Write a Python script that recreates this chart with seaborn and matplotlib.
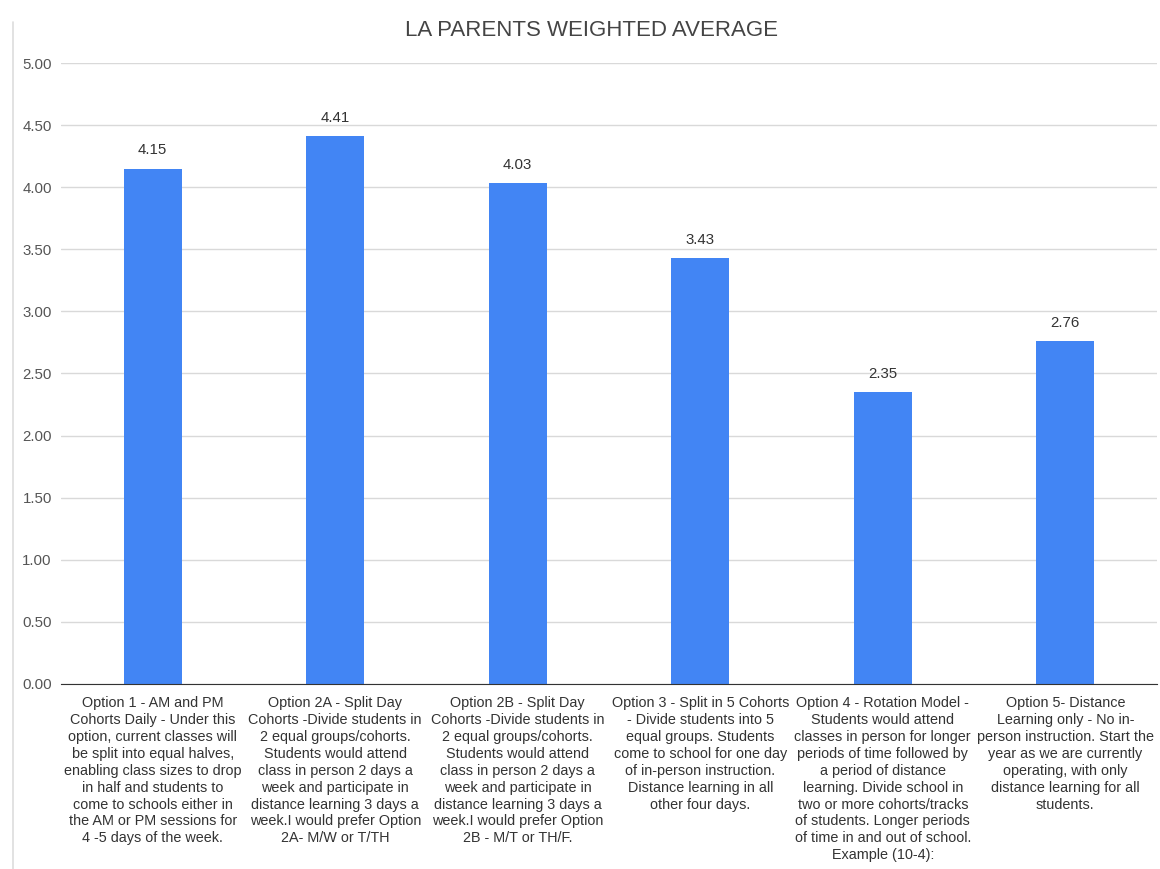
import matplotlib
matplotlib.use("Agg")

import matplotlib.pyplot as plt
import seaborn as sns
from matplotlib.lines import Line2D

output_filename = "out.png"

options = [
    "Option 1 - AM and PM\nCohorts Daily - Under this\noption, current classes will\nbe split into equal halves,\nenabling class sizes to drop\nin half and students to\ncome to schools either in\nthe AM or PM sessions for\n4 -5 days of the week.",
    "Option 2A - Split Day\nCohorts -Divide students in\n2 equal groups/cohorts.\nStudents would attend\nclass in person 2 days a\nweek and participate in\ndistance learning 3 days a\nweek.I would prefer Option\n2A- M/W or T/TH",
    "Option 2B - Split Day\nCohorts -Divide students in\n2 equal groups/cohorts.\nStudents would attend\nclass in person 2 days a\nweek and participate in\ndistance learning 3 days a\nweek.I would prefer Option\n2B - M/T or TH/F.",
    "Option 3 - Split in 5 Cohorts\n- Divide students into 5\nequal groups. Students\ncome to school for one day\nof in-person instruction.\nDistance learning in all\nother four days.",
    "Option 4 - Rotation Model -\nStudents would attend\nclasses in person for longer\nperiods of time followed by\na period of distance\nlearning. Divide school in\ntwo or more cohorts/tracks\nof students. Longer periods\nof time in and out of school.\nExample (10-4):",
    "Option 5- Distance\nLearning only - No in-\nperson instruction. Start the\nyear as we are currently\noperating, with only\ndistance learning for all\nstudents.",
]
averages = [4.15, 4.41, 4.03, 3.43, 2.35, 2.76]
yticks = [0, 0.5, 1, 1.5, 2, 2.5, 3, 3.5, 4, 4.5, 5]

sns.set_style("white")
plt.rcParams["font.family"] = ["Liberation Sans", "DejaVu Sans"]

fig = plt.figure(figsize=(11.6, 8.69), dpi=100)
ax = fig.add_axes([0.053, 0.213, 0.944, 0.7145])

sns.barplot(x=list(range(len(options))), y=averages, color="#4285F4",
            width=0.32, saturation=1, linewidth=0, ax=ax, zorder=3)

ax.set_ylim(0, 5)
ax.set_xlim(-0.5, len(options) - 0.5)
ax.set_yticks(yticks)
ax.set_yticklabels(["%.2f" % t for t in yticks], color="#555555", fontsize=10.8)
ax.set_xticks(range(len(options)))
ax.set_xticklabels(options, fontsize=10.4, color="#333333", linespacing=1.26,
                   va="top")
ax.tick_params(axis="y", length=0, pad=7)
ax.tick_params(axis="x", length=0, pad=9)

ax.grid(axis="y", color="#d9d9d9", linewidth=1, zorder=0)
for s in ["top", "right", "left"]:
    ax.spines[s].set_visible(False)
ax.spines["bottom"].set_color("#333333")
ax.spines["bottom"].set_zorder(4)

for i, v in enumerate(averages):
    ax.annotate("%.2f" % v, (i, v), xytext=(0, 8), textcoords="offset points",
                ha="center", va="bottom", fontsize=10.8, color="#333333")

ax.set_xlabel("")
ax.set_ylabel("")
fig.text(0.51, 0.965, "LA PARENTS WEIGHTED AVERAGE", ha="center",
         va="center", fontsize=16, color="#444444")

fig.add_artist(Line2D([0.011, 0.011], [0.0, 0.975], color="#dddddd",
                      linewidth=1.2, transform=fig.transFigure))

plt.savefig(output_filename, dpi=100, facecolor="white")
